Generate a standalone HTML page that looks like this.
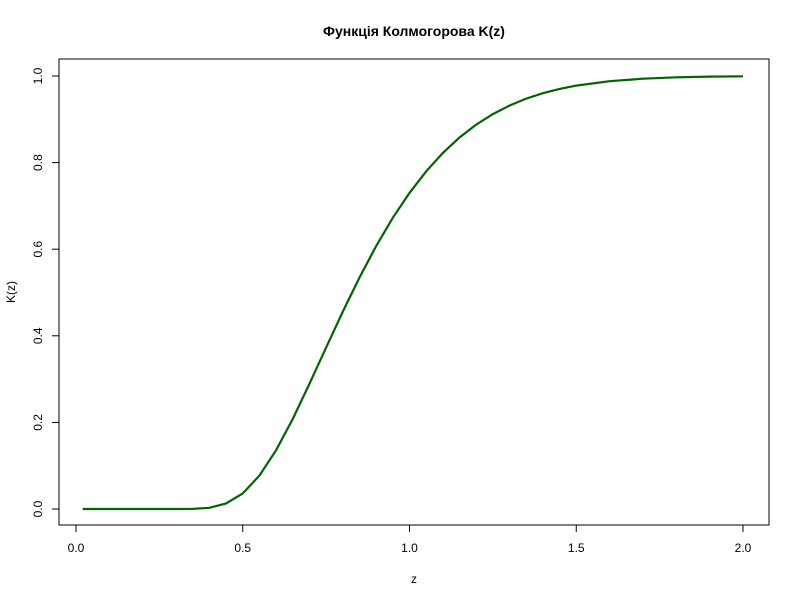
<!DOCTYPE html>
<html><head><meta charset="utf-8"><style>
body{margin:0;background:#fff;}
svg{display:block;font-family:"Liberation Sans",Arial,sans-serif;}
</style></head><body>
<svg id="chart" width="800" height="600">
<text x="414" y="36" text-anchor="middle" font-size="14" font-weight="bold">Функція Колмогорова K(z)</text>
<rect x="59" y="59" width="710" height="466" fill="none" stroke="#000" stroke-width="1"/>
<g id="xaxis"></g>
<g id="yaxis"></g>
<text x="414" y="583" text-anchor="middle" font-size="12">z</text>
<text x="0" y="0" transform="translate(15,292) rotate(-90)" text-anchor="middle" font-size="12">K(z)</text>
<path id="curve" fill="none" stroke="#006400" stroke-width="2.2"/>
</svg>
<script>
const zValues=[0.02,0.1,0.2,0.3,0.35,0.4,0.45,0.5,0.55,0.6,0.65,0.7,0.75,0.8,0.85,0.9,0.95,1.0,1.05,1.1,1.15,1.2,1.25,1.3,1.35,1.4,1.45,1.5,1.6,1.7,1.8,1.9,2.0];
const kValues=[0,0,0,0.00001,0.0003,0.0028,0.0126,0.0361,0.0772,0.1357,0.2080,0.2888,0.3728,0.4559,0.5347,0.6073,0.6725,0.7300,0.7798,0.8223,0.8580,0.8878,0.9121,0.9319,0.9478,0.9603,0.9702,0.9778,0.9880,0.9938,0.9969,0.9985,0.9993];
const xTicks=[0,0.5,1.0,1.5,2.0];
const xTickLabels=["0.0","0.5","1.0","1.5","2.0"];
const yTicks=[0,0.2,0.4,0.6,0.8,1.0];
const yTickLabels=["0.0","0.2","0.4","0.6","0.8","1.0"];
const sx=v=>76+v*333.5;
const sy=v=>509-v*433;
const NS="http://www.w3.org/2000/svg";
const xa=document.getElementById('xaxis'),ya=document.getElementById('yaxis');
function mk(t,a,p){const e=document.createElementNS(NS,t);for(const k in a)e.setAttribute(k,a[k]);p.appendChild(e);return e;}
let l=mk('line',{x1:sx(xTicks[0]),x2:sx(xTicks[xTicks.length-1]),y1:525,y2:525,stroke:'#000'},xa);


xTicks.forEach((v,i)=>{
 const t=mk('line',{x1:sx(v),x2:sx(v),y1:525,y2:532,stroke:'#000'},xa);
 
 
 const tx=mk('text',{x:sx(v),y:552,'text-anchor':'middle','font-size':12},xa);
 tx.textContent=xTickLabels[i];
 
 
});
l=mk('line',{x1:59,x2:59,y1:sy(yTicks[0]),y2:sy(yTicks[yTicks.length-1]),stroke:'#000'},ya);


yTicks.forEach((v,i)=>{
 const t=mk('line',{x1:52,x2:59,y1:sy(v),y2:sy(v),stroke:'#000'},ya);
 
 
 const tx=mk('text',{x:0,y:0,transform:`translate(42,${sy(v)}) rotate(-90)`,'text-anchor':'middle','font-size':12},ya);
 tx.textContent=yTickLabels[i];
 
 
});
document.getElementById('curve').setAttribute('d',zValues.map((z,i)=>(i?'L':'M')+sx(z).toFixed(1)+','+sy(kValues[i]).toFixed(1)).join(''));
</script>
</body></html>
